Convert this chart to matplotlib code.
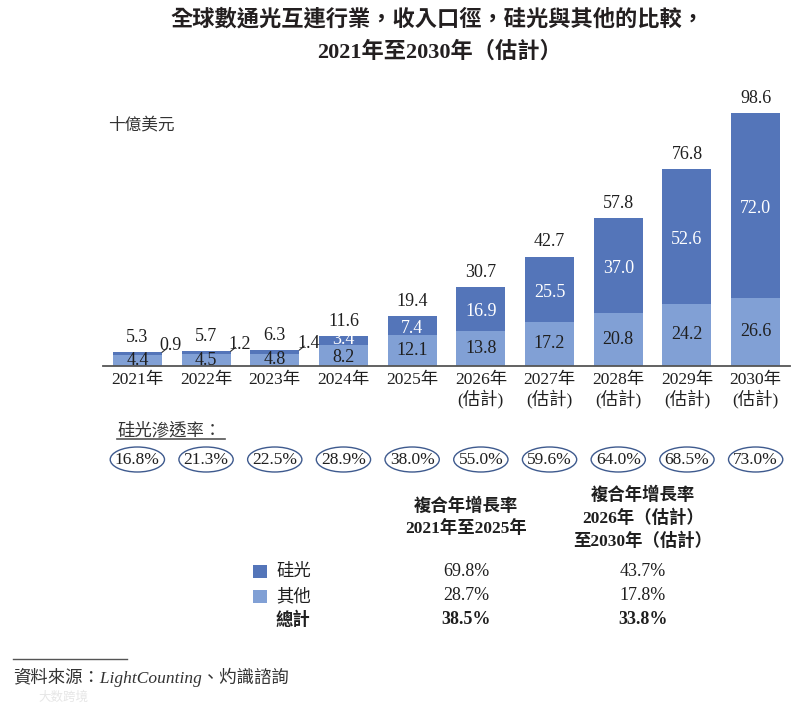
import matplotlib
matplotlib.use("Agg")
import matplotlib.pyplot as plt
from matplotlib.patches import Ellipse, Rectangle
from matplotlib.lines import Line2D
from matplotlib.transforms import blended_transform_factory

# ---------------- data ----------------
years = ["2021年", "2022年", "2023年", "2024年", "2025年",
         "2026年\n(估計)", "2027年\n(估計)", "2028年\n(估計)", "2029年\n(估計)", "2030年\n(估計)"]
silicon = [0.9, 1.2, 1.4, 3.4, 7.4, 16.9, 25.5, 37.0, 52.6, 72.0]
others = [4.4, 4.5, 4.8, 8.2, 12.1, 13.8, 17.2, 20.8, 24.2, 26.6]
totals = [5.3, 5.7, 6.3, 11.6, 19.4, 30.7, 42.7, 57.8, 76.8, 98.6]
penetration = ["16.8%", "21.3%", "22.5%", "28.9%", "38.0%",
               "55.0%", "59.6%", "64.0%", "68.5%", "73.0%"]
cagr_rows = ["硅光", "其他", "總計"]
cagr_2125 = ["69.8%", "28.7%", "38.5%"]
cagr_2630 = ["43.7%", "17.8%", "33.8%"]

# ---------------- style ----------------
DARK = "#5475B9"
LIGHT = "#81A0D5"
TXT = "#1f1f1f"
MIX = ["Liberation Serif", "Noto Sans CJK TC"]
CJK = ["Noto Sans CJK TC", "DejaVu Sans"]
plt.rcParams["font.family"] = MIX
FS = 13

W, H = 812, 705
fig = plt.figure(figsize=(W / 100, H / 100), dpi=100)
fig.patch.set_facecolor("white")


def P(x, y):
    return x / W, 1 - y / H


# axes placement (pixel based)
base_y = 366
ax_left, ax_right = 103, 790
ymax = 110
px_per_unit = 2.563
ax_h = ymax * px_per_unit
ax = fig.add_axes([ax_left / W, (H - base_y) / H, (ax_right - ax_left) / W, ax_h / H])
ax.set_xlim(-0.5, 9.5)
ax.set_ylim(0, ymax)
for s in ["left", "right", "top"]:
    ax.spines[s].set_visible(False)
ax.spines["bottom"].set_color("#555555")
ax.spines["bottom"].set_linewidth(1.3)
ax.set_yticks([])

idx = list(range(len(years)))
bw = 0.714
ax.bar(idx, others, width=bw, color=LIGHT, zorder=2)
ax.bar(idx, silicon, width=bw, bottom=others, color=DARK, zorder=2)

ax.set_xticks(idx)
ax.set_xticklabels(years, fontsize=12.5, color=TXT, linespacing=1.2)
ax.tick_params(axis="x", length=0, pad=4)

for i in idx:
    o, s, t = others[i], silicon[i], totals[i]
    ax.annotate(f"{t:.1f}", xy=(i, o + s), xytext=(0, 10.5), textcoords="offset points",
                ha="center", va="center", fontsize=FS, color=TXT, zorder=4)
    if s >= 3:
        tight = s < 5
        ax.annotate(f"{o:.1f}", xy=(i, o / 2), xytext=(0, -1.5 if tight else 0),
                    textcoords="offset points", ha="center", va="center",
                    fontsize=FS, color=TXT, zorder=4)
        ax.annotate(f"{s:.1f}", xy=(i, o + s / 2), xytext=(0, 1.0 if tight else -2),
                    textcoords="offset points", ha="center", va="center",
                    fontsize=FS, color="white", zorder=4)
    else:
        ax.text(i, o / 2, f"{o:.1f}", ha="center", va="center", fontsize=FS,
                color=TXT, zorder=4)
        corner = (i + bw / 2, o + s)
        ax.annotate("", xy=corner, xytext=(3.6, 2.9), textcoords="offset points",
                    arrowprops=dict(arrowstyle="-", lw=0.8, color="#333333",
                                    shrinkA=0, shrinkB=0))
        ax.annotate(f"{s:.1f}", xy=corner, xytext=(6.5, 5.0), textcoords="offset points",
                    ha="center", va="center", fontsize=FS, color=TXT, zorder=4)

# ---------------- penetration ellipses ----------------
bt = blended_transform_factory(ax.transData, fig.transFigure)
ell_y = 1 - 459.5 / H
for i in idx:
    e = Ellipse((i, ell_y), width=0.79, height=25 / H, transform=bt,
                facecolor="none", edgecolor="#3E5A8E", lw=1.0, clip_on=False)
    ax.add_patch(e)
    ax.text(i, ell_y, penetration[i], transform=bt, ha="center", va="center",
            fontsize=12.5, color=TXT, clip_on=False)

fig.text(*P(117, 430), "硅光滲透率：", family=CJK, fontsize=12.5, color="#333333",
         ha="left", va="center")
fig.add_artist(Line2D([117 / W, 225 / W], [1 - 439 / H, 1 - 439 / H],
                      color="#555555", lw=1.2))

# ---------------- titles ----------------
fig.text(*P(437, 20), "全球數通光互連行業，收入口徑，硅光與其他的比較，", family=MIX,
         fontsize=16, fontweight="bold", color="#231f20", ha="center", va="center")
fig.text(*P(440, 52), "2021年至2030年（估計）", family=MIX,
         fontsize=16, fontweight="bold", color="#231f20", ha="center", va="center")
fig.text(*P(108, 126), "十億美元", family=CJK, fontsize=12, color="#333333",
         ha="left", va="center")

# ---------------- CAGR table ----------------
c1, c2 = 466, 643
hdr = dict(family=MIX, fontsize=12.5, fontweight="bold", color=TXT, ha="center", va="center")
fig.text(*P(c1, 506), "複合年增長率", **hdr)
fig.text(*P(c1, 529), "2021年至2025年", **hdr)
fig.text(*P(c2, 495), "複合年增長率", **hdr)
fig.text(*P(c2, 518), "2026年（估計）", **hdr)
fig.text(*P(c2, 541), "至2030年（估計）", **hdr)

row_y = [571, 596, 620]
sq_colors = [DARK, LIGHT, None]
for r, y in enumerate(row_y):
    bold = "bold" if r == 2 else "normal"
    if sq_colors[r]:
        fig.add_artist(Rectangle((253 / W, 1 - (y + 6.5) / H), 14 / W, 13 / H,
                                 transform=fig.transFigure, facecolor=sq_colors[r],
                                 edgecolor="none"))
    fig.text(*P(276, y), cagr_rows[r], family=CJK, fontsize=12.5, fontweight=bold,
             color=TXT, ha="left", va="center")
    fig.text(*P(c1, y), cagr_2125[r], family=MIX, fontsize=FS, fontweight=bold,
             color=TXT, ha="center", va="center")
    fig.text(*P(c2, y), cagr_2630[r], family=MIX, fontsize=FS, fontweight=bold,
             color=TXT, ha="center", va="center")

# ---------------- source ----------------
fig.add_artist(Line2D([13 / W, 127 / W], [1 - 659 / H, 1 - 659 / H], color="#555555", lw=1.0))
fig.text(*P(13, 677), "資料來源：LightCounting、灼識諮詢", family=MIX, style="italic",
         fontsize=12.5, color="#333333", ha="left", va="center")
fig.text(*P(38, 697), "大数跨境", family=["Noto Sans CJK SC"], fontsize=9,
         color="#e6e6e6", ha="left", va="center")

fig.savefig("out.png", dpi=100, facecolor="white")
